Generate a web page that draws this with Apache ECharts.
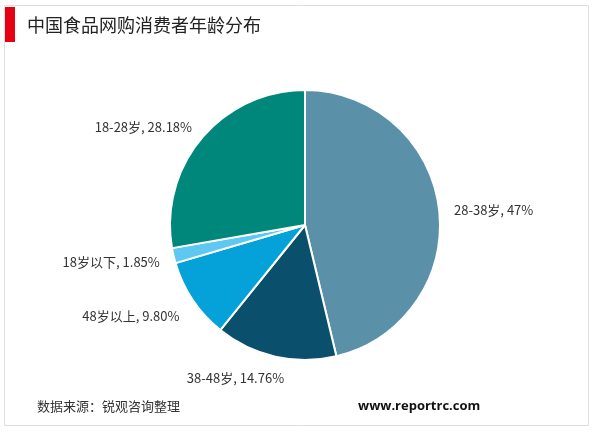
<!DOCTYPE html>
<html><head><meta charset="utf-8">
<script src="https://cdn.jsdelivr.net/npm/echarts@6/dist/echarts.min.js"></script>
<style>html,body{margin:0;padding:0;background:#fff}#c{width:600px;height:433px}</style>
</head><body><div id="c"></div>
<script>
const categories = ['28-38岁', '38-48岁', '48岁以上', '18岁以下', '18-28岁'];
const values = [47, 14.76, 9.80, 1.85, 28.18];
const valueLabels = ['47%', '14.76%', '9.80%', '1.85%', '28.18%'];
const colors = ['#5b91a8', '#0a4f6b', '#05a2da', '#5ec8f0', '#00877b'];

const chart = echarts.init(document.getElementById('c'), null, {renderer: 'canvas'});
const font = '"Noto Sans CJK SC", "Microsoft YaHei", sans-serif';
// small label nudges to mimic the original label placement
const labelNudge = [[-4, 2], [20, 12], [4, 10], [5, 4], [7, -5]];
chart.setOption({
  backgroundColor: '#fff',
  animation: false,
  graphic: [
    {type: 'rect', shape: {x: 4.5, y: 5.5, width: 584, height: 420}, style: {fill: 'none', stroke: '#dedede', lineWidth: 1}},
    {type: 'rect', shape: {x: 5, y: 7, width: 10, height: 35}, style: {fill: '#e60012'}},
    {type: 'text', left: 27, top: 16, style: {text: '中国食品网购消费者年龄分布', font: '18px ' + font, fill: '#222'}},
    {type: 'text', left: 37, top: 400, style: {text: '数据来源：锐观咨询整理', font: '13px ' + font, fill: '#333'}},
    {type: 'text', left: 358, top: 400, style: {text: 'www.reportrc.com', font: 'bold 13px "Open Sans", Arial, sans-serif', fill: '#111'}}
  ],
  series: [{
    type: 'pie',
    center: [305, 225],
    radius: [0, 135],
    startAngle: 90,
    clockwise: true,
    avoidLabelOverlap: false,
    itemStyle: {borderColor: '#fff', borderWidth: 2},
    label: {
      show: true, position: 'outside', color: '#333', fontSize: 13, fontFamily: font,
      formatter: p => p.name + ', ' + valueLabels[p.dataIndex]
    },
    labelLine: {show: false, length: 10, length2: 4},
    data: categories.map((c, i) => ({
      name: c, value: values[i], itemStyle: {color: colors[i]},
      label: {offset: labelNudge[i]}
    }))
  }]
});
</script></body></html>
